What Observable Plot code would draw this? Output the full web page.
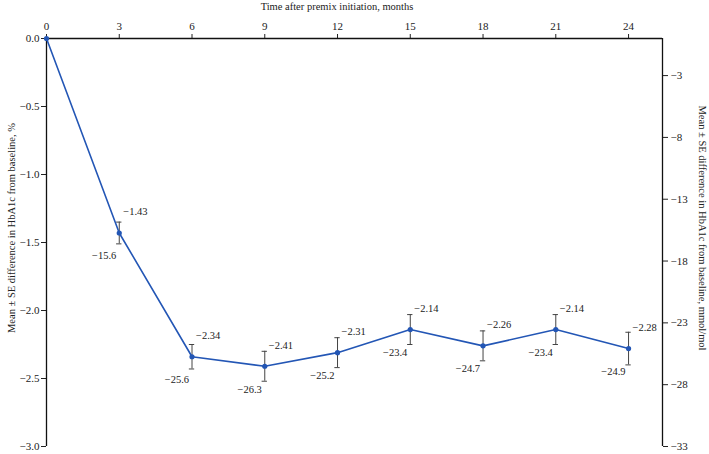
<!DOCTYPE html>
<html>
<head>
<meta charset="utf-8">
<script src="https://cdn.jsdelivr.net/npm/d3@7"></script>
<script src="https://cdn.jsdelivr.net/npm/@observablehq/plot@0.6"></script>
<style>
  html, body { margin: 0; padding: 0; background: #fff; }
  svg { font-family: "Liberation Serif", "DejaVu Serif", serif; }
</style>
</head>
<body>
<div id="chart"></div>
<script>
const months = [0, 3, 6, 9, 12, 15, 18, 21, 24];
const meanPct = [0, -1.43, -2.34, -2.41, -2.31, -2.14, -2.26, -2.14, -2.28];
const meanMmol = [null, -15.6, -25.6, -26.3, -25.2, -23.4, -24.7, -23.4, -24.9];
const sePct = [0, 0.08, 0.09, 0.11, 0.11, 0.11, 0.11, 0.11, 0.12];
const xTicks = [0, 3, 6, 9, 12, 15, 18, 21, 24];
const yTicksPct = [0, -0.5, -1.0, -1.5, -2.0, -2.5, -3.0];
const yTicksMmol = [-3, -8, -13, -18, -23, -28, -33];
const mmolPerPct = 11;

const xTitle = "Time after premix initiation, months";
const yLeftTitle = "Mean \u00b1 SE difference in HbA1c from baseline, %";
const yRightTitle = "Mean \u00b1 SE difference in HbA1c from baseline, mmol/mol";

const data = months.map((m, i) => ({
  month: m, pct: meanPct[i], mmol: meanMmol[i], se: sePct[i]
}));
const bars = data.filter(d => d.month > 0);

const minus = v => (v < 0 ? "\u2212" : "") + Math.abs(v);
const W = 709, H = 454;
const xMax = 25.4;

const plot = Plot.plot({
  width: W,
  height: H,
  marginLeft: 46,
  marginRight: 47,
  marginTop: 38,
  marginBottom: 8,
  style: { fontFamily: "Liberation Serif, serif", fontSize: "11px", color: "#222", background: "#fff" },
  x: { domain: [0, xMax] },
  y: { domain: [-3, 0] },
  marks: [
    Plot.axisX({ anchor: "top", ticks: xTicks, tickSize: 5, tickPadding: 4, label: null, tickFormat: d => String(d), fontSize: 11 }),
    Plot.axisY({ anchor: "left", ticks: yTicksPct, tickSize: 5, tickPadding: 2, label: null,
      tickFormat: d => (d < 0 ? "\u2212" : "") + Math.abs(d).toFixed(1), fontSize: 11 }),
    Plot.axisY({ anchor: "right", ticks: yTicksMmol.map(v => v / mmolPerPct), tickSize: 5, tickPadding: 3, label: null,
      tickFormat: d => minus(Math.round(d * mmolPerPct)), fontSize: 11 }),
    Plot.ruleY([0], { x1: 0, x2: xMax, stroke: "#111", strokeWidth: 1.3 }),
    Plot.ruleX([0], { y1: -3, y2: 0, stroke: "#111", strokeWidth: 1.3 }),
    Plot.ruleX([xMax], { y1: -3, y2: 0, stroke: "#111", strokeWidth: 1.3 }),
    Plot.ruleX(bars, { x: "month", y1: d => d.pct - d.se, y2: d => d.pct + d.se, stroke: "#444", strokeWidth: 1 }),
    Plot.ruleY(bars, { y: d => d.pct + d.se, x1: d => d.month - 0.11, x2: d => d.month + 0.11, stroke: "#444", strokeWidth: 1 }),
    Plot.ruleY(bars, { y: d => d.pct - d.se, x1: d => d.month - 0.11, x2: d => d.month + 0.11, stroke: "#444", strokeWidth: 1 }),
    Plot.line(data, { x: "month", y: "pct", stroke: "#2356b5", strokeWidth: 1.6 }),
    Plot.dot(data, { x: "month", y: "pct", r: 2.6, fill: "#2356b5", stroke: "none" }),
    Plot.text(bars, { x: "month", y: "pct", text: d => minus(d.pct.toFixed(2)), textAnchor: "start", dx: 4, dy: -21, fontSize: 10.5, fill: "#222" }),
    Plot.text(bars, { x: "month", y: "pct", text: d => minus(d.mmol.toFixed(1)), textAnchor: "end", dx: -3, dy: 23, fontSize: 10.5, fill: "#222" })
  ]
});

const svg = d3.select(plot);
svg.append("text")
  .attr("x", 337).attr("y", 9.5)
  .attr("text-anchor", "middle")
  .attr("font-size", 10.5).attr("fill", "#222")
  .text(xTitle);
svg.append("text")
  .attr("transform", "translate(15,228) rotate(-90)")
  .attr("text-anchor", "middle")
  .attr("font-size", 10.5).attr("fill", "#222")
  .text(yLeftTitle);
svg.append("text")
  .attr("transform", "translate(699,228) rotate(90)")
  .attr("text-anchor", "middle")
  .attr("font-size", 10.5).attr("fill", "#222")
  .text(yRightTitle);

document.getElementById("chart").appendChild(plot);
</script>
</body>
</html>
